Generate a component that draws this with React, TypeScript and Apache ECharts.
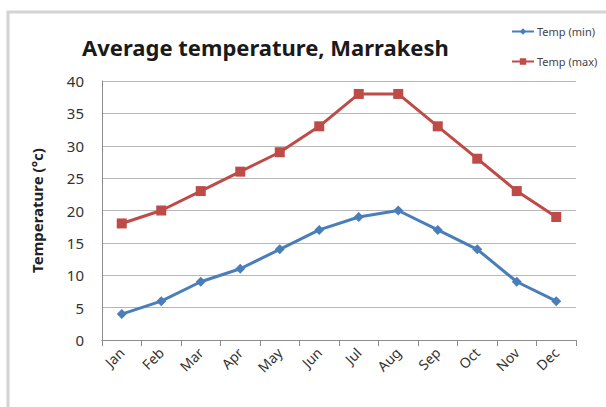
import React, { useEffect, useRef } from "react";
import * as echarts from "echarts";

const months = ["Jan", "Feb", "Mar", "Apr", "May", "Jun", "Jul", "Aug", "Sep", "Oct", "Nov", "Dec"];
const tempMin = [4, 6, 9, 11, 14, 17, 19, 20, 17, 14, 9, 6];
const tempMax = [18, 20, 23, 26, 29, 33, 38, 38, 33, 28, 23, 19];
const yTicks = { min: 0, max: 40, interval: 5 };

export default function App() {
  const ref = useRef<HTMLDivElement>(null);
  useEffect(() => {
    if (!ref.current) return;
    const chart = echarts.init(ref.current, null, { renderer: "svg" });
    chart.setOption({
      animation: false,
      backgroundColor: "#ffffff",
      textStyle: { fontFamily: "Noto Sans" },
      graphic: [
        {
          type: "rect",
          shape: { x: 8, y: 12, width: 640, height: 440 },
          style: { fill: "none", stroke: "#d4d4d4", lineWidth: 3 },
          silent: true,
        },
      ],
      title: {
        text: "Average temperature, Marrakesh",
        left: 77,
        top: 31,
        textStyle: { fontSize: 22, fontWeight: "bold", color: "#1a1a1a", fontFamily: "Noto Sans" },
      },
      legend: {
        orient: "vertical",
        left: 506,
        top: 21,
        itemGap: 19,
        itemWidth: 22,
        itemHeight: 8,
        textStyle: { fontSize: 11, color: "#444", fontFamily: "Noto Sans", padding: [0, 0, 0, -2] },
        data: ["Temp (min)", "Temp (max)"],
      },
      grid: { left: 102, right: 30, top: 81, bottom: 67 },
      xAxis: {
        type: "category",
        data: months,
        boundaryGap: true,
        axisLine: { lineStyle: { color: "#8c8c8c", width: 1 } },
        axisTick: { show: true, length: 6, lineStyle: { color: "#8c8c8c" } },
        axisLabel: { rotate: 45, fontSize: 14, color: "#333", margin: 10, interval: 0 },
        splitLine: { show: false },
      },
      yAxis: {
        type: "value",
        min: yTicks.min,
        max: yTicks.max,
        interval: yTicks.interval,
        name: "Temperature (°c)",
        nameLocation: "middle",
        nameGap: 58,
        nameTextStyle: { fontSize: 15, fontWeight: "bold", color: "#222" },
        axisLine: { show: true, lineStyle: { color: "#8c8c8c" } },
        axisTick: { show: false },
        axisLabel: { fontSize: 15, color: "#333", margin: 18 },
        splitLine: { lineStyle: { color: "#b8b8b8", width: 1 } },
      },
      series: [
        {
          name: "Temp (min)",
          type: "line",
          data: tempMin,
          symbol: "diamond",
          symbolSize: 10,
          lineStyle: { color: "#4a7ebb", width: 3 },
          itemStyle: { color: "#4a7ebb" },
        },
        {
          name: "Temp (max)",
          type: "line",
          data: tempMax,
          symbol: "rect",
          symbolSize: 10,
          lineStyle: { color: "#be4b48", width: 3 },
          itemStyle: { color: "#be4b48" },
        },
      ],
    });
    return () => chart.dispose();
  }, []);
  return <div ref={ref} style={{ position: "fixed", left: 0, top: 0, width: 606, height: 407 }} />;
}
